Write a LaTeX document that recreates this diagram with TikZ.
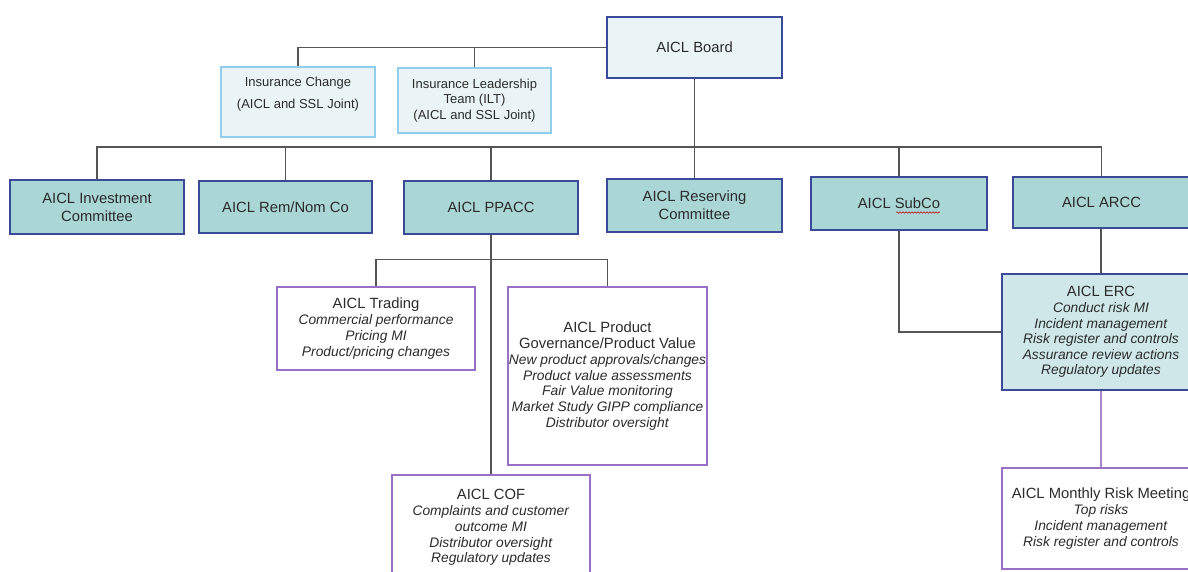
\documentclass[tikz,border=0pt]{standalone}
\usepackage{fontspec}
\setmainfont{Liberation Sans}
\usetikzlibrary{decorations.pathmorphing}
\definecolor{linegray}{HTML}{555555}
\definecolor{txt}{HTML}{2B2B2B}
\definecolor{navy}{HTML}{3A4A98}
\definecolor{tealfill}{HTML}{AAD6D6}
\definecolor{palefill}{HTML}{EAF4F6}
\definecolor{skyline}{HTML}{92CDEB}
\definecolor{ercfill}{HTML}{CFE7E8}
\definecolor{purp}{HTML}{9B6FC6}
\definecolor{purpline}{HTML}{A884CC}
\newcommand{\ttlf}{\fontsize{14.8}{17.5}\selectfont}
\tikzset{
  basebox/.style={draw, inner sep=0pt, align=center, text=txt, line width=1.1pt},
  committee/.style={basebox, fill=tealfill, draw=navy, font=\fontsize{14.8}{18}\selectfont},
  boardbox/.style={basebox, fill=palefill, draw=navy, font=\fontsize{14.8}{18}\selectfont},
  jointbox/.style={basebox, fill=palefill, draw=skyline, font=\fontsize{13}{15.5}\selectfont},
  pbox/.style={basebox, fill=white, draw=purp, font=\fontsize{13.8}{15.6}\selectfont},
  ercbox/.style={basebox, fill=ercfill, draw=navy, font=\fontsize{13.8}{15.6}\selectfont},
  txtonly/.style={inner sep=0pt, align=center, text=txt},
  link/.style={draw=linegray, line width=1.4pt},
  plink/.style={draw=purpline, line width=1.4pt}
}
\begin{document}
\begin{tikzpicture}[x=1pt,y=-1pt]
\useasboundingbox (0,0) rectangle (1188,572);
\clip (0,0) rectangle (1188,572);
\fill[white] (0,0) rectangle (1188,572);

% top level
\node[boardbox, minimum width=175pt, minimum height=61pt] (board) at (694.5,47.5) {AICL Board};
\node[jointbox, minimum width=154pt, minimum height=70pt] (ic) at (298,102) {};
\node[txtonly, anchor=north, font=\fontsize{13}{22}\selectfont] (icT) at (298,76.5) {Insurance Change\\(AICL and SSL Joint)};
\node[jointbox, minimum width=153pt, minimum height=65pt] (ilt) at (474.5,100.5) {Insurance Leadership\\Team (ILT)\\(AICL and SSL Joint)};

% committees
\node[committee, minimum width=174pt, minimum height=54pt] (inv) at (97,207) {AICL Investment\\Committee};
\node[committee, minimum width=173pt, minimum height=52pt] (rem) at (285.5,207) {AICL Rem/Nom Co};
\node[committee, minimum width=174pt, minimum height=53pt] (ppacc) at (491,207.5) {AICL PPACC};
\node[committee, minimum width=175pt, minimum height=53pt] (res) at (694.5,205.5) {AICL Reserving\\Committee};
\node[committee, minimum width=176pt, minimum height=53pt] (sub) at (899,203.5) {AICL SubCo};
\node[committee, minimum width=177pt, minimum height=51pt] (arcc) at (1101.5,202.5) {AICL ARCC};

% lower boxes
\node[pbox, minimum width=198pt, minimum height=83pt] (trading) at (376,328.5)
  {{\ttlf AICL Trading}\\[0.5pt]\textit{Commercial performance}\\\textit{Pricing MI}\\\textit{Product/pricing changes}};
\node[pbox, minimum width=199pt, minimum height=178pt] (product) at (607.5,376)
  {{\ttlf AICL Product}\\[0.5pt]{\ttlf Governance/Product Value}\\[0.3pt]\textit{New product approvals/changes}\\\textit{Product value assessments}\\\textit{Fair Value monitoring}\\\textit{Market Study GIPP compliance}\\\textit{Distributor oversight}};
\node[pbox, minimum width=198pt, minimum height=125pt] (cof) at (491,537.5) {};
\node[txtonly, anchor=north, font=\fontsize{13.8}{15.8}\selectfont] (cofT) at (491,488.7)
  {{\ttlf AICL COF}\\[0.5pt]\textit{Complaints and customer}\\\textit{outcome MI}\\\textit{Distributor oversight}\\\textit{Regulatory updates}};
\node[ercbox, minimum width=198pt, minimum height=116pt] (erc) at (1101,332)
  {{\ttlf AICL ERC}\\[0.5pt]\textit{Conduct risk MI}\\\textit{Incident management}\\\textit{Risk register and controls}\\\textit{Assurance review actions}\\\textit{Regulatory updates}};
\node[pbox, minimum width=198pt, minimum height=101pt] (monthly) at (1101,518.5)
  {{\ttlf AICL Monthly Risk Meeting}\\[0.5pt]\textit{Top risks}\\\textit{Incident management}\\\textit{Risk register and controls}};

% connectors
\coordinate (bus) at (694.5,147);
\path[link] (board.west) -| (ic.north);
\path[link] (ilt.north) -- (ilt.north |- board.west);
\path[link] (board.south) -- (res.north);
\path[link] (inv.north) -- (inv.north |- bus) -- (arcc.north |- bus) -- (arcc.north);
\path[link] (rem.north) -- (rem.north |- bus);
\path[link] (ppacc.north) -- (ppacc.north |- bus);
\path[link] (sub.north) -- (sub.north |- bus);
\path[link] (ppacc.south) -- (cof.north);
\path[link] (trading.north) -- ++(0,-27) -| (product.north);
\path[link] (sub.south) |- (erc.west);
\path[link] (arcc.south -| erc.north) -- (erc.north);
\path[plink] (erc.south) -- (monthly.north);

% spell-check squiggle
\draw[red!80!black, line width=0.5pt, decorate, decoration={snake, amplitude=0.8pt, segment length=3pt}] (896,212.5) -- (940,212.5);
\end{tikzpicture}
\end{document}
